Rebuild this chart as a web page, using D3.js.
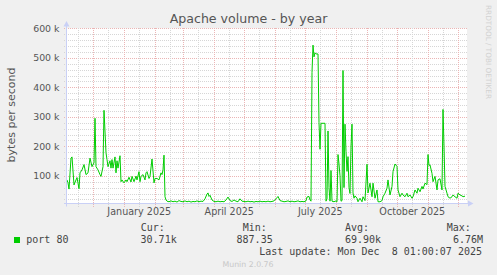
<!DOCTYPE html>
<html>
<head>
<meta charset="utf-8">
<script src="https://cdn.jsdelivr.net/npm/d3@7"></script>
<style>
  body { margin: 0; background: #f0f0f0; }
  text { font-family: "DejaVu Sans", sans-serif; }
  .mono { font-family: "DejaVu Sans Mono", monospace; white-space: pre; }
</style>
</head>
<body>
<script>
// chart data
const title = "Apache volume - by year";
const yLabel = "bytes per second";
const seriesName = "port 80";
const startTime = Date.UTC(2024, 10, 4, 17); // left edge of the graph (400 days shown)

// day offset from startTime, and the value in k bytes/s
const days = [0,1,2,4,5,7,9,10,12,13,15,17,19,21,23,25,27,28,29,31,33,34,36,37,39,40,41,43,44,45,46,48,49,50,51,53,54,55,57,59,60,62,64,65,67,69,70,72,73,74,76,78,79,80,82,83,85,87,88,90,92,94,95,96,97,98,99,100,
  102,104,106,108,110,112,114,116,118,120,122,124,126,128,130,132,134,136,138,140,141,142,143,145,147,149,151,153,155,157,159,161,163,165,167,169,171,173,175,177,179,181,183,185,187,189,191,193,195,197,199,201,203,205,207,209,211,213,215,217,219,221,223,225,227,229,231,233,235,237,239,240,242,243,
  244,245,246,247,248,249,251,252,253,254,257,258,259,260,261,262,263,264,265,267,269,270,271,272,273,274,275,276,277,278,279,280,281,282,283,284,285,286,287,288,290,291,293,295,296,298,300,301,303,305,306,308,310,311,313,315,316,318,320,321,323,325,326,328,330,331,333,335,336,338,340,341,343,345,346,348,350,351,353,355,356,358,360,361,362,363,365,366,368,370,371,373,375,376,377,378,380,381,383,385,386,388,390,391,393,395,396,398];
const kbytes = [86,76,55,160,164,69,86,94,56,110,120,138,104,110,160,131,144,295,131,120,104,98,131,322,178,155,131,151,126,155,126,164,110,151,126,168,80,86,76,86,80,95,79,98,80,99,86,114,80,98,104,86,110,114,91,98,157,76,91,91,86,110,104,120,170,29,18,14,
  12,15,12,14,11,16,13,12,15,12,14,11,13,12,15,12,14,13,22,38,42,30,34,18,13,12,14,12,13,12,18,28,16,13,18,14,12,22,14,13,12,14,12,13,11,13,12,14,12,13,12,14,12,13,15,22,30,16,14,12,13,15,12,14,12,13,15,12,13,12,15,28,30,18,
  14,450,543,503,517,513,513,280,190,278,278,278,14,22,252,60,14,118,14,12,15,12,172,140,100,14,16,457,60,275,183,115,165,60,40,200,275,42,24,32,24,12,24,12,29,16,139,42,75,29,75,24,52,12,12,16,29,41,58,86,35,64,114,140,132,52,29,41,35,29,41,29,35,24,29,52,41,58,46,64,55,75,70,172,135,137,108,80,98,52,86,90,52,325,200,64,41,29,24,29,35,29,24,41,35,32,29,31];

const yTicks = [100, 200, 300, 400, 500, 600]; // k
const monthLabels = ["January 2025", "April 2025", "July 2025", "October 2025"];
const labelDates = ["2025-01-16", "2025-04-16", "2025-07-16", "2025-10-16"];
const statNames = ["Cur:", "Min:", "Avg:", "Max:"];
const statValues = ["30.71k", "887.35", "69.90k", "6.76M"];
const lastUpdate = "Last update: Mon Dec  8 01:00:07 2025";
const footer = "Munin 2.0.76";
const watermark = "RRDTOOL / TOBI OETIKER";

const DAY = 86400000;
const W = 497, H = 275;
const plotLeft = 67, plotRight = 467, plotTop = 28.3, plotBottom = 203.5;

const svg = d3.select("body").append("svg")
    .attr("width", W)
    .attr("height", H);

svg.append("rect").attr("width", W).attr("height", H).attr("fill", "#f0f0f0");

const x = d3.scaleUtc().domain([startTime, startTime + 400 * DAY]).range([plotLeft, plotRight]);
const y = d3.scaleLinear().domain([0, 600000]).range([205.3, plotTop]);

// canvas
svg.append("rect")
    .attr("x", plotLeft).attr("y", plotTop)
    .attr("width", plotRight - plotLeft).attr("height", plotBottom - plotTop)
    .attr("fill", "#ffffff");

const grid = svg.append("g").attr("shape-rendering", "crispEdges");
const minorColor = "#d6d6d6", majorColor = "#ebb5b5";

// horizontal grid
const minorY = d3.range(20, 600, 20).filter(v => v % 100 != 0);
grid.selectAll(".hmin").data(minorY).enter().append("line")
    .attr("x1", plotLeft - 3).attr("x2", plotRight)
    .attr("y1", d => Math.round(y(d * 1000)) + 0.5)
    .attr("y2", d => Math.round(y(d * 1000)) + 0.5)
    .attr("stroke", minorColor).attr("stroke-dasharray", "1,1");
grid.selectAll(".hmaj").data(yTicks).enter().append("line")
    .attr("x1", plotLeft - 3).attr("x2", plotRight)
    .attr("y1", d => Math.round(y(d * 1000)) + 0.5)
    .attr("y2", d => Math.round(y(d * 1000)) + 0.5)
    .attr("stroke", majorColor).attr("stroke-dasharray", "1,1");

// vertical grid: month starts red, mid months gray
const t0 = new Date(startTime), t1 = new Date(startTime + 400 * DAY);
const monthStarts = d3.utcMonth.range(t0, t1);
const midMonths = d3.utcMonth.range(d3.utcMonth.offset(t0, -1), t1)
    .map(d => d3.utcDay.offset(d, 15))
    .filter(d => d >= t0 && d <= t1);
grid.selectAll(".vmin").data(midMonths).enter().append("line")
    .attr("x1", d => Math.round(x(d)) + 0.5).attr("x2", d => Math.round(x(d)) + 0.5)
    .attr("y1", plotTop).attr("y2", plotBottom + 3)
    .attr("stroke", minorColor).attr("stroke-dasharray", "1,1");
grid.selectAll(".vmaj").data(monthStarts).enter().append("line")
    .attr("x1", d => Math.round(x(d)) + 0.5).attr("x2", d => Math.round(x(d)) + 0.5)
    .attr("y1", plotTop).attr("y2", plotBottom + 3)
    .attr("stroke", majorColor).attr("stroke-dasharray", "1,1");

// data line
svg.append("clipPath").attr("id", "plot")
    .append("rect").attr("x", plotLeft).attr("y", plotTop - 2)
    .attr("width", plotRight - plotLeft).attr("height", plotBottom - plotTop + 2);

const points = days.map((d, i) => ({ date: new Date(startTime + d * DAY), value: kbytes[i] * 1000 }));

svg.append("path")
    .datum(points)
    .attr("clip-path", "url(#plot)")
    .attr("fill", "none")
    .attr("stroke", "#00cc00")
    .attr("stroke-width", 1)
    .attr("d", d3.line()
        .x(d => x(d.date))
        .y(d => y(d.value)));

// axes with arrows
const axisColor = "#c9d0f6";
svg.append("line").attr("x1", plotLeft - 3).attr("x2", 469).attr("y1", plotBottom).attr("y2", plotBottom)
    .attr("stroke", axisColor);
svg.append("path").attr("d", "M468,200.5L473.5,203.5L468,206.5Z").attr("fill", axisColor);
svg.append("line").attr("x1", plotLeft - 0.5).attr("x2", plotLeft - 0.5).attr("y1", plotBottom + 3).attr("y2", 25)
    .attr("stroke", axisColor);
svg.append("path").attr("d", "M63.5,26.5L66.5,21L69.5,26.5Z").attr("fill", axisColor);

// y tick labels
svg.selectAll(".ylab").data(yTicks).enter().append("text")
    .attr("x", 59.5)
    .attr("y", d => y(d * 1000) + 3.4)
    .attr("text-anchor", "end")
    .attr("font-size", "9.4px")
    .attr("fill", "#555")
    .text(d => d + " k");

// x labels
svg.selectAll(".xlab").data(monthLabels).enter().append("text")
    .attr("x", (d, i) => x(new Date(labelDates[i] + "T00:00:00Z")))
    .attr("y", 215)
    .attr("text-anchor", "middle")
    .attr("font-size", "9.6px")
    .attr("fill", "#555")
    .text(d => d);

// title
svg.append("text")
    .attr("x", 248.5).attr("y", 22.8)
    .attr("text-anchor", "middle")
    .attr("font-size", "12.6px")
    .attr("fill", "#555")
    .text(title);

// y axis label
svg.append("text")
    .attr("transform", "translate(14.5,115) rotate(-90)")
    .attr("text-anchor", "middle")
    .attr("font-size", "11px")
    .attr("fill", "#555")
    .text(yLabel);

// watermark
svg.append("text")
    .attr("transform", "translate(485.5,5) rotate(90)")
    .attr("font-size", "7.3px")
    .attr("fill", "#d2d2d2")
    .text(watermark);

// legend
svg.append("rect").attr("x", 14).attr("y", 237).attr("width", 6).attr("height", 6)
    .attr("fill", "#00cc00");
svg.append("text").attr("class", "mono")
    .attr("x", 26.3).attr("y", 243.2)
    .attr("font-size", "10px").attr("fill", "#444")
    .text(seriesName);

const nameX = [140.7, 242.7, 345, 446.7];
const valueRight = [176.7, 272.7, 381, 483];
svg.selectAll(".sname").data(statNames).enter().append("text")
    .attr("class", "mono")
    .attr("x", (d, i) => nameX[i]).attr("y", 230.8)
    .attr("font-size", "10px").attr("fill", "#444")
    .text(d => d);
svg.selectAll(".sval").data(statValues).enter().append("text")
    .attr("class", "mono")
    .attr("x", (d, i) => valueRight[i]).attr("y", 243.2)
    .attr("text-anchor", "end")
    .attr("font-size", "10px").attr("fill", "#444")
    .text(d => d);

svg.append("text").attr("class", "mono")
    .attr("x", 482).attr("y", 255.3)
    .attr("text-anchor", "end")
    .attr("font-size", "10px").attr("fill", "#444")
    .text(lastUpdate);

svg.append("text")
    .attr("x", 248).attr("y", 267)
    .attr("text-anchor", "middle")
    .attr("font-size", "7.8px")
    .attr("fill", "#c8c8c8")
    .text(footer);
</script>
</body>
</html>
